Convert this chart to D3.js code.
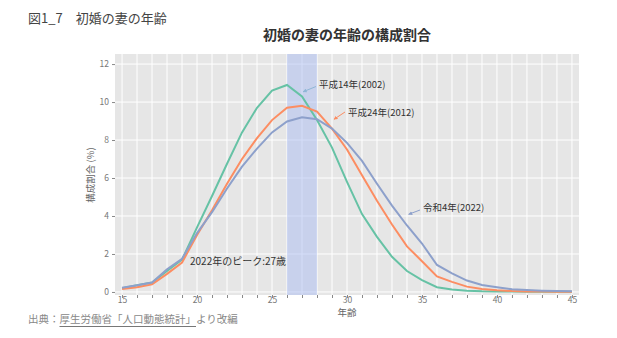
<!DOCTYPE html>
<html><head><meta charset="utf-8">
<script src="https://cdn.jsdelivr.net/npm/d3@7"></script>
<style>
body{margin:0;background:#fff;}
text{font-family:"Noto Sans CJK JP","Noto Sans",sans-serif;}
</style></head>
<body><svg id="c" width="617" height="338"></svg>
<script>
const ages = d3.range(15, 46);
const y2002 = [0.2,0.35,0.5,1.1,1.7,3.4,5.05,6.75,8.4,9.7,10.6,10.9,10.3,9.05,7.6,5.8,4.1,2.9,1.85,1.1,0.62,0.25,0.13,0.07,0.04,0.03,0.02,0.01,0.01,0.01,0.01];
const y2012 = [0.15,0.25,0.4,0.95,1.55,3.0,4.3,5.7,7.0,8.1,9.05,9.7,9.8,9.5,8.6,7.5,6.15,4.8,3.55,2.4,1.62,0.82,0.53,0.28,0.16,0.09,0.05,0.03,0.02,0.01,0.01];
const y2022 = [0.22,0.35,0.5,1.2,1.75,3.1,4.2,5.45,6.6,7.55,8.4,8.98,9.2,9.1,8.6,7.85,6.9,5.7,4.55,3.5,2.55,1.42,0.98,0.6,0.37,0.25,0.14,0.1,0.07,0.05,0.04];
const seriesNames = ["平成14年(2002)","平成24年(2012)","令和4年(2022)"];
const seriesColors = ["#66c2a5","#fc8d62","#8da0cb"];
const xTicks = [15,20,25,30,35,40,45];
const yTicks = [0,2,4,6,8,10,12];
const peakBand = [26,28];

const svg = d3.select("#c");
const x = d3.scaleLinear().domain([14.53,45.47]).range([115,579]);
const y = d3.scaleLinear().domain([-0.16,12.53]).range([295,54]);

svg.append("text").attr("x",28).attr("y",23).attr("font-size",13).attr("fill","#444").text("図1_7　初婚の妻の年齢");
svg.append("text").attr("x",347).attr("y",40).attr("text-anchor","middle").attr("font-size",14).attr("font-weight","bold").attr("fill","#333").text("初婚の妻の年齢の構成割合");

svg.append("rect").attr("x",115).attr("y",54).attr("width",464).attr("height",241).attr("fill","#e6e6e6");
// grid
svg.append("g").selectAll("line").data(ages).join("line")
  .attr("x1",d=>x(d)).attr("x2",d=>x(d)).attr("y1",54).attr("y2",295)
  .attr("stroke","#fff").attr("stroke-width",1);
svg.append("g").selectAll("line").data(yTicks).join("line")
  .attr("x1",115).attr("x2",579).attr("y1",d=>y(d)).attr("y2",d=>y(d))
  .attr("stroke","#fff").attr("stroke-width",1);
// band
svg.append("rect").attr("x",x(peakBand[0])).attr("width",x(peakBand[1])-x(peakBand[0]))
  .attr("y",54).attr("height",241).attr("fill","#a9bcf2").attr("opacity",0.5);

// axes
const xAxis = d3.axisBottom(x).tickValues(ages).tickSize(3).tickFormat(d=>xTicks.includes(d)?d:"");
const gx = svg.append("g").attr("transform","translate(0,295)").call(xAxis);
gx.select(".domain").remove();
gx.selectAll("line").attr("stroke","#888");
gx.selectAll("text").attr("fill","#777").attr("font-size",8.5).attr("y",2).attr("dy","0.71em");
const yAxis = d3.axisLeft(y).tickValues(yTicks).tickSize(3).tickPadding(3);
const gy = svg.append("g").attr("transform","translate(115,0)").call(yAxis);
gy.select(".domain").remove();
gy.selectAll("line").attr("stroke","#888");
gy.selectAll("text").attr("fill","#777").attr("font-size",8.5);

svg.append("text").attr("transform","translate(94,175) rotate(-90)").attr("text-anchor","middle")
  .attr("font-size",9.5).attr("fill","#666").text("構成割合 (%)");
svg.append("text").attr("x",347).attr("y",316).attr("text-anchor","middle")
  .attr("font-size",9.5).attr("fill","#666").text("年齢");

const line = d3.line().x((d,i)=>x(ages[i])).y(d=>y(d));
[y2002,y2012,y2022].forEach((s,i)=>{
  svg.append("path").datum(s).attr("d",line).attr("fill","none")
    .attr("stroke",seriesColors[i]).attr("stroke-width",2);
});

// annotations
const defs = svg.append("defs");
const arrowColors = ["#8fb6d6","#fc8d62","#8da0cb"];
arrowColors.forEach((c,i)=>{
  defs.append("marker").attr("id","ah"+i).attr("viewBox","0 0 10 10").attr("refX",9).attr("refY",5)
    .attr("markerWidth",4).attr("markerHeight",4).attr("orient","auto")
    .append("path").attr("d","M0,0L10,5L0,10z").attr("fill",c);
});
const ann = [
  {t:seriesNames[0], tx:319, ty:88, ax:27.07, ay:10.54, fx:316, fy:86.5},
  {t:seriesNames[1], tx:348, ty:116, ax:29.13, ay:9.09, fx:345, fy:112},
  {t:seriesNames[2], tx:423, ty:211, ax:34.11, ay:4.09, fx:420, fy:210}
];
ann.forEach((a,i)=>{
  svg.append("line").attr("x1",a.fx).attr("y1",a.fy).attr("x2",x(a.ax)).attr("y2",y(a.ay))
    .attr("stroke",arrowColors[i]).attr("stroke-width",1).attr("marker-end",`url(#ah${i})`);
  svg.append("text").attr("x",a.tx).attr("y",a.ty).attr("font-size",9.5).attr("fill","#333").text(a.t);
});
svg.append("text").attr("x",190).attr("y",265).attr("font-size",10).attr("fill","#333").text("2022年のピーク:27歳");

// source
const src = svg.append("text").attr("x",28).attr("y",323).attr("font-size",10.5).attr("fill","#888");
src.append("tspan").text("出典：");
src.append("tspan").attr("id","u").text("厚生労働省「人口動態統計」");
src.append("tspan").text("より改編");
const ub = document.getElementById("u").getBBox();
svg.append("line").attr("x1",ub.x).attr("x2",ub.x+ub.width).attr("y1",326.5).attr("y2",326.5)
  .attr("stroke","#777").attr("stroke-width",1);
</script></body></html>
